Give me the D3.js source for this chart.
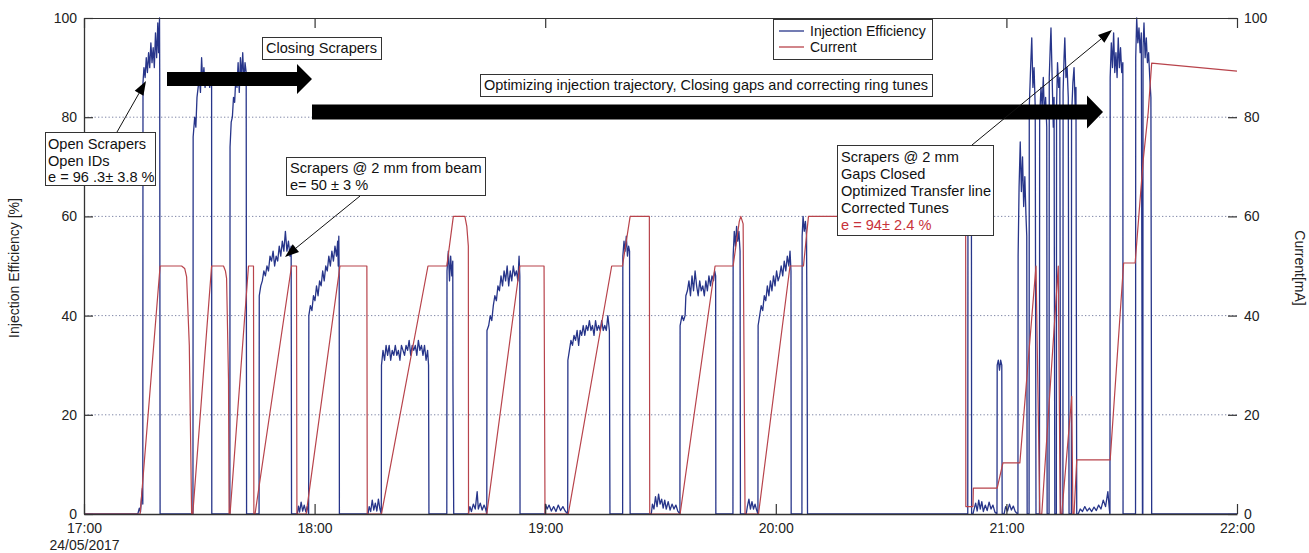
<!DOCTYPE html>
<html><head><meta charset="utf-8">
<script src="https://cdn.jsdelivr.net/npm/d3@7"></script>
<style>
html,body{margin:0;padding:0;background:#fff;}
svg{display:block;font-family:"Liberation Sans",Arial,Helvetica,sans-serif;}
</style></head><body>
<svg id="chart" width="1309" height="553"></svg>
<script>
// ---------- DATA (time = minutes after 17:00 on 24/05/2017) ----------
const hourTicks  = [0, 60, 120, 180, 240, 300];
const hourLabels = ["17:00", "18:00", "19:00", "20:00", "21:00", "22:00"];
const dateLabel  = "24/05/2017";
const valueTicks = [0, 20, 40, 60, 80, 100];
const seriesNames = ["Injection Efficiency", "Current"];

// Injection efficiency [%] – open scrapers / closing scrapers phase
const effOpen = [
  [0,0],[14.0,0],[14.4,1.2],[14.7,0.4],[15.0,3.5],[15.2,5.2],[15.3,2],
  [15.35,87],[15.6,90],[15.9,88],[16.2,92],[16.5,89],[16.8,93],[17.1,90],[17.4,95],[17.7,91],[18.0,94],[18.3,90],[18.6,97],[18.9,92],[19.2,99],[19.4,93],[19.65,100],[19.7,89],[19.8,0],
  [28.35,0],[28.4,76],[28.8,80],[29.1,78],[29.4,84],[29.7,86],[30.0,88],[30.3,85],[30.6,92],[30.9,87],[31.2,90],[31.5,86],[31.8,89],[32.1,87],[32.4,88],[32.7,86],[33.0,88],[33.2,87],[33.25,0],
  [37.95,0],[38.0,74],[38.3,79],[38.6,80],[38.9,84],[39.2,83],[39.5,88],[39.8,86],[40.1,91],[40.4,85],[40.7,92],[41.0,88],[41.3,93],[41.6,87],[41.9,91],[42.2,89],[42.3,0]
];
// scrapers at 2 mm from beam
const effScraped = [
  [45.55,0],[45.6,44],[46.0,46],[46.4,47],[46.8,49],[47.2,48],[47.6,50],[48.0,49],[48.4,52],[48.8,51],[49.2,53],[49.6,50],[50.0,52],[50.4,51],[50.8,54],[51.2,52],[51.6,55],[52.0,53],[52.4,57],[52.8,53],[53.2,55],[53.6,52],[53.9,54],[54.0,0],
  [55.5,0],[55.8,1.6],[56.1,0.4],[56.5,2.4],[56.9,0.6],[57.3,1.8],[57.7,0.5],[58.1,1.5],[58.45,0],
  [58.5,40],[58.9,42],[59.3,41],[59.7,44],[60.1,43],[60.5,46],[60.9,44],[61.3,47],[61.7,46],[62.1,49],[62.5,47],[62.9,50],[63.3,49],[63.7,52],[64.1,50],[64.5,53],[64.9,51],[65.3,54],[65.7,52],[66.0,55],[66.15,50],[66.3,56],[66.4,48],[66.45,0],
  [73.9,0],[74.2,1.5],[74.6,0.5],[75.0,2.8],[75.4,0.8],[75.8,2.2],[76.2,0.6],[76.6,3],[77.0,1],[77.35,0],
  [77.4,30],[77.8,33],[78.2,31],[78.6,34],[79.0,32],[79.4,34],[79.8,31],[80.2,33],[80.6,32],[81.0,34],[81.4,32],[81.8,33],[82.2,31],[82.6,34],[83.0,33],[83.4,32],[83.8,34],[84.2,33],[84.6,35],[85.0,32],[85.4,34],[85.8,33],[86.2,34],[86.6,32],[87.0,35],[87.4,33],[87.8,34],[88.2,32],[88.6,34],[89.0,31],[89.4,33],[89.65,30],[89.75,0]
];
// optimizing trajectory, gaps and tunes
const effTuning = [
  [94.4,0],[94.45,49],[94.8,53],[95.1,47],[95.4,52],[95.7,48],[95.95,51],[96.0,26],[96.2,0],
  [100.0,0],[100.4,1.5],[100.8,0.5],[101.3,2],[101.8,1],[102.3,4.5],[102.6,1],[103.1,2.2],[103.6,0.8],[104.1,1.8],[104.5,1],[104.8,0],
  [104.85,37],[105.3,38],[105.7,40],[106.1,39],[106.5,42],[106.9,44],[107.3,43],[107.7,46],[108.1,45],[108.5,48],[108.9,46],[109.3,49],[109.7,47],[110.1,50],[110.5,46],[110.9,49],[111.3,47],[111.7,50],[112.1,48],[112.5,49],[112.9,47],[113.2,52],[113.4,48],[113.45,0],
  [120.0,0],[120.05,2],[120.5,1],[121.0,1.8],[121.6,0.6],[122.2,1.5],[122.8,0.5],[123.4,1.8],[124.0,0.7],[124.6,1.5],[125.2,0.6],[125.85,0],
  [125.9,31],[126.3,33],[126.7,35],[127.1,34],[127.5,36],[127.9,35],[128.3,37],[128.7,34],[129.1,37],[129.5,36],[129.9,38],[130.3,36],[130.7,38],[131.1,37],[131.5,39],[131.9,37],[132.3,38],[132.7,36],[133.1,39],[133.5,37],[133.9,38],[134.3,37],[134.7,39],[135.1,37],[135.5,38],[135.9,37],[136.3,40],[136.7,37],[136.85,0],
  [140.15,0],[140.2,52],[140.5,55],[140.8,53],[141.1,56],[141.4,52],[141.7,54],[141.95,53],[142.0,20],[142.1,0],
  [147.6,0],[147.9,2],[148.3,1],[148.7,3.5],[149.1,1.5],[149.5,4],[149.9,2],[150.3,3],[150.7,1.2],[151.1,2.8],[151.5,1],[152.0,2.5],[152.5,0.8],[153.0,2],[153.5,1],[154.0,1.8],[154.5,0.6],[155.05,0],
  [155.1,38],[155.6,40],[156.0,39],[156.4,40],[156.6,44],[157.0,45],[157.4,47],[157.8,44],[158.2,48],[158.6,45],[159.0,49],[159.4,46],[159.8,44],[160.2,47],[160.6,45],[161.0,46],[161.4,44],[161.8,47],[162.2,45],[162.6,48],[163.0,46],[163.4,48],[163.8,47],[164.1,49],[164.35,48],[164.4,0],
  [168.85,0],[168.9,52],[169.2,57],[169.5,54],[169.8,58],[170.1,55],[170.4,57],[170.7,53],[170.8,0],
  [172.3,0],[172.6,1.5],[173.0,3],[173.4,1],[173.8,2.5],[174.2,1],[174.6,2],[175.0,0.8],[175.35,0],
  [175.4,38],[175.8,40],[176.2,42],[176.6,41],[177.0,44],[177.4,43],[177.8,46],[178.2,44],[178.6,47],[179.0,45],[179.4,48],[179.8,46],[180.2,49],[180.6,47],[181.0,48],[181.4,50],[181.8,48],[182.2,51],[182.6,49],[183.0,52],[183.4,50],[183.7,53],[183.95,49],[184.0,0],
  [186.8,0],[186.85,56],[187.1,60],[187.4,57],[187.7,59],[188.0,56],[188.15,30],[188.25,0]
];
// scrapers @ 2 mm, gaps closed, optimized transfer line, corrected tunes
const effFinal = [
  [229.95,0],[230.0,62],[230.5,65],[230.9,61],[230.95,0],
  [231.3,0],[231.6,1],[232.0,2.2],[232.4,0.6],[232.8,2.8],[233.2,1],[233.6,2.5],[234.0,0.5],[234.5,1.8],[235.0,0.7],[235.5,2.4],[236.0,1],[236.5,1.8],[237.0,0.4],[237.5,0],
  [237.55,0],[237.6,30],[237.9,31],[238.2,29],[238.5,31],[238.8,30],[238.9,0],
  [239.4,0],[239.8,1.5],[240.3,0.6],[240.8,2],[241.3,0.8],[241.8,1.6],[242.3,0.5],[242.9,0],
  [243.0,0],[243.05,52],[243.3,66],[243.6,75],[243.9,65],[244.2,72],[244.5,62],[244.8,68],[245.1,60],[245.3,56],[245.4,0],
  [245.9,0],[245.95,82],[246.3,90],[246.6,96],[246.9,86],[247.2,90],[247.5,82],[247.7,0],
  [248.6,0],[248.65,80],[249.0,86],[249.3,82],[249.6,88],[249.9,80],[250.2,84],[250.5,78],[250.6,0],
  [251.1,0],[251.15,88],[251.4,94],[251.6,98],[251.9,88],[252.2,78],[252.4,84],[252.6,0],
  [253.0,0],[253.05,82],[253.3,91],[253.6,86],[253.9,88],[254.1,0],
  [254.7,0],[254.75,85],[255.0,92],[255.2,96],[255.5,88],[255.8,90],[256.1,84],[256.3,0],
  [256.9,0],[256.95,80],[257.3,87],[257.6,90],[257.9,82],[258.1,86],[258.3,0],
  [258.7,0],[259.2,1],[259.8,0.5],[260.4,1.5],[261.0,0.6],[261.6,1.2],[262.2,0.5],[262.8,1.4],[263.4,0.7],[264.0,1.8],[264.6,1],[265.2,2.8],[265.8,1.5],[266.4,4.5],[266.9,0],
  [266.95,0],[267.0,88],[267.3,95],[267.6,90],[267.9,97],[268.2,89],[268.5,93],[268.8,88],[269.1,96],[269.4,90],[269.7,94],[270.0,89],[270.3,91],[270.35,0],
  [273.6,0],[273.65,92],[273.9,100],[274.2,95],[274.5,98],[274.8,93],[275.1,97],[275.4,0],
  [275.5,0],[275.55,94],[275.8,99],[276.1,92],[276.4,96],[276.7,91],[277.0,93],[277.3,88],[277.6,84],[277.8,0],[300,0]
];

// Ring current [mA]
const currentFill = [
  [0,0],[14.6,0],[19.8,50],[25.4,50],[26.2,49.5],[26.7,47.8],[27.4,34],[28.0,0],
  [28.3,0],[33.2,50],[36.3,50],[36.8,49],[37.1,47.5],[37.6,27],[37.75,0],
  [38.0,0],[42.8,50],[44.1,50],[44.2,0],
  [44.5,0],[54.0,50],[55.3,50],[55.4,0],
  [57.8,0],[66.6,50],[73.6,50],[73.7,0]
];
const currentTopUp = [
  [77.4,0],[89.5,50],[94.4,50],[96.1,60],[99.1,60],[99.6,58],[100.0,54],[100.05,0],
  [104.8,0],[113.4,50],[119.7,50],[119.95,0],
  [126.0,0],[137.3,50],[140.1,50],[142.1,60],[147.1,60],[147.2,0],
  [155.1,0],[164.2,50],[168.9,50],[170.5,59],[170.9,60],[171.5,58.5],[172.0,0],
  [175.5,0],[183.7,50],[187.2,50],[188.5,60],[229.4,60],[229.45,1.5],
  [231.3,1.5],[231.4,5.2],[237.6,5.2],[239.1,10.3],[243.5,10.3],[247.7,50],[248.7,0],
  [249.2,0],[253.5,50],[254.0,0],[254.4,0],[257.0,23.7],[257.3,0],[257.6,0],[258.3,10.9],
  [267.0,10.9],[270.5,50.6],[273.5,50.6],[275.6,71.4],[276.9,81],[277.8,90.9],[300,89.3]
];

const labelLeft = "Injection Efficiency [%]";
const labelRight = "Current[mA]";
const noteOpen = ["Open Scrapers", "Open IDs", "e = 96 .3\u00b1 3.8 %"];
const noteClosing = "Closing Scrapers";
const noteOptim = "Optimizing injection trajectory, Closing gaps and correcting ring tunes";
const noteScraped = ["Scrapers @ 2 mm from beam", "e= 50 \u00b1 3 %"];
const noteFinal = ["Scrapers @ 2 mm", "Gaps Closed", "Optimized Transfer line", "Corrected Tunes", "e = 94\u00b1 2.4 %"];

// ---------- CHART ----------
const svg = d3.select("#chart");
const L = 84, R = 1237, T = 18, B = 514;
const x = d3.scaleLinear().domain([0, 300]).range([L, R]);
const yL = d3.scaleLinear().domain([0, 100]).range([B, T]);
const yR = d3.scaleLinear().domain([0, 100]).range([B, T]);

const BLUE = "#27358a", RED = "#b8434b", INK = "#222";

svg.append("defs").append("clipPath").attr("id", "plot")
  .append("rect").attr("x", L).attr("y", T - 2).attr("width", R - L).attr("height", B - T + 2);

// grid
svg.append("g").selectAll("line").data(valueTicks.filter(v => v > 0 && v < 100)).join("line")
  .attr("x1", L).attr("x2", R).attr("y1", d => yL(d)).attr("y2", d => yL(d))
  .attr("stroke", "#7f86a6").attr("stroke-width", 1).attr("stroke-dasharray", "1.3,2.2");

const plot = svg.append("g").attr("clip-path", "url(#plot)");
const lineL = d3.line().x(d => x(d[0])).y(d => yL(d[1]));
const lineR = d3.line().x(d => x(d[0])).y(d => yR(d[1]));

plot.append("path").datum([].concat(effOpen, effScraped, effTuning, [[200,0]], effFinal))
  .attr("d", lineL).attr("fill", "none").attr("stroke", BLUE).attr("stroke-width", 1.3).attr("stroke-linejoin", "round");
plot.append("path").datum([].concat(currentFill, currentTopUp))
  .attr("d", lineR).attr("fill", "none").attr("stroke", RED).attr("stroke-width", 1.2).attr("stroke-linejoin", "round");

// axes
const fs = "14px";
const axB = svg.append("g").attr("transform", `translate(0,${B})`)
  .call(d3.axisBottom(x).tickValues(hourTicks).tickFormat((d, i) => hourLabels[i]).tickSizeInner(-10).tickSizeOuter(0).tickPadding(9));
const axT = svg.append("g").attr("transform", `translate(0,${T})`)
  .call(d3.axisTop(x).tickValues(hourTicks).tickFormat("").tickSizeInner(-10).tickSizeOuter(0));
const axLft = svg.append("g").attr("transform", `translate(${L},0)`)
  .call(d3.axisLeft(yL).tickValues(valueTicks).tickSizeInner(-9).tickSizeOuter(0).tickPadding(7));
const axRgt = svg.append("g").attr("transform", `translate(${R},0)`)
  .call(d3.axisRight(yR).tickValues(valueTicks).tickSizeInner(-9).tickSizeOuter(0).tickPadding(7));
[axB, axT, axLft, axRgt].forEach(g => {
  g.selectAll(".tick line").attr("stroke", "#333").attr("stroke-width", 1.2);
  g.selectAll("text").attr("font-size", fs).attr("fill", INK).attr("font-family", "Liberation Sans, Arial, sans-serif");
});
axRgt.select(".domain").remove();
axB.select(".domain").attr("stroke", "#333").attr("stroke-width", 1.3);
axT.select(".domain").attr("stroke", "#333").attr("stroke-width", 1.2);
axLft.select(".domain").attr("stroke", "#333").attr("stroke-width", 1.3);
axB.select(".tick text").clone()
  .attr("dy", null).attr("y", 36).text(dateLabel);

svg.append("text").attr("transform", `translate(19,${(T + B) / 2 + 2}) rotate(-90)`)
  .attr("text-anchor", "middle").attr("font-size", fs).attr("fill", INK).text(labelLeft);
svg.append("text").attr("transform", `translate(1295,${(T + B) / 2 + 2}) rotate(90)`)
  .attr("text-anchor", "middle").attr("font-size", fs).attr("fill", INK).text(labelRight);

// big black arrows
function bigArrow(x0, x1, headLen, yc, bodyH, headH) {
  const xh = x1 - headLen;
  svg.append("path").attr("fill", "#000").attr("d",
    `M${x0},${yc - bodyH / 2}L${xh},${yc - bodyH / 2}L${xh},${yc - headH / 2}L${x1},${yc}L${xh},${yc + headH / 2}L${xh},${yc + bodyH / 2}L${x0},${yc + bodyH / 2}Z`);
}
bigArrow(167, 312, 15, 79, 14, 30);
bigArrow(312, 1103, 16, 112, 15, 33);

// thin annotation arrows
function thinArrow(xa, ya, xb, yb) {
  const ang = Math.atan2(yb - ya, xb - xa), hl = 14, hw = 5;
  const bx = xb - hl * Math.cos(ang), by = yb - hl * Math.sin(ang);
  svg.append("line").attr("x1", xa).attr("y1", ya).attr("x2", bx).attr("y2", by)
    .attr("stroke", "#111").attr("stroke-width", 1);
  svg.append("path").attr("fill", "#000").attr("d",
    `M${xb},${yb}L${bx - hw * Math.sin(ang)},${by + hw * Math.cos(ang)}L${bx + hw * Math.sin(ang)},${by - hw * Math.cos(ang)}Z`);
}
thinArrow(117, 132, 146, 81);
thinArrow(360, 196, 285, 257);
thinArrow(972, 145, 1112, 30);

// text boxes
const afs = "14.6px";
function box(x0, y0, x1, y1, lines, tx, baselines, colors, tl) {
  svg.append("rect").attr("x", x0 + 0.5).attr("y", y0 + 0.5).attr("width", x1 - x0).attr("height", y1 - y0)
    .attr("fill", "#fff").attr("stroke", "#333").attr("stroke-width", 1);
  lines.forEach((s, i) => {
    const t = svg.append("text").attr("x", tx).attr("y", baselines[i]).attr("font-size", afs)
      .attr("fill", colors ? colors[i] : "#111").text(s);
    if (tl) t.attr("textLength", tl[i]).attr("lengthAdjust", "spacingAndGlyphs");
  });
}
box(262, 37, 381, 59, [noteClosing], 266, [53], null, [111]);
box(480, 74, 932, 96, [noteOptim], 484, [90], null, [444]);
box(45, 132, 155, 185, noteOpen, 48, [149, 166, 182]);
box(286, 157, 485, 195, noteScraped, 290, [173, 190]);
box(837, 145, 993, 235, noteFinal, 841, [162, 179, 196, 213, 230], ["#111", "#111", "#111", "#111", "#c8323a"]);

// legend
svg.append("rect").attr("x", 773.5).attr("y", 19.5).attr("width", 159).attr("height", 40)
  .attr("fill", "#fff").attr("stroke", "#333");
[BLUE, RED].forEach((c, i) => {
  svg.append("line").attr("x1", 779).attr("x2", 804).attr("y1", 31 + i * 16).attr("y2", 31 + i * 16)
    .attr("stroke", c).attr("stroke-width", 1.3);
  svg.append("text").attr("x", 810).attr("y", 36 + i * 16).attr("font-size", fs).attr("fill", "#111").text(seriesNames[i]);
});
</script>
</body></html>
